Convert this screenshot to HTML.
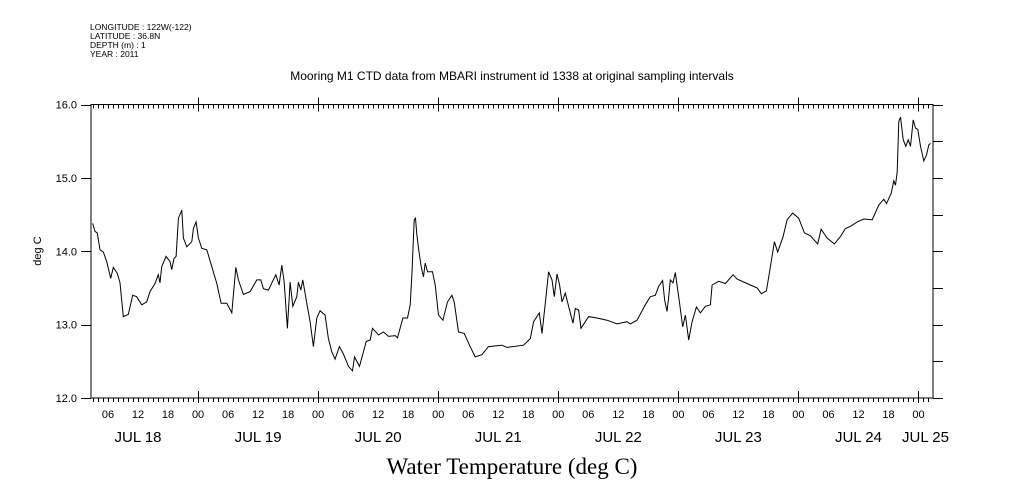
<!DOCTYPE html>
<html><head><meta charset="utf-8"><style>
body{margin:0;background:#fff;width:1009px;height:504px;overflow:hidden}
svg{display:block}
</style></head><body>
<svg id="chart" width="1009" height="504" xmlns="http://www.w3.org/2000/svg" font-family="Liberation Sans, sans-serif">
<g font-size="8.5" fill="#000">
<text x="90" y="30">LONGITUDE : 122W(-122)</text>
<text x="90" y="39">LATITUDE : 36.8N</text>
<text x="90" y="48">DEPTH (m) : 1</text>
<text x="90" y="57">YEAR : 2011</text>
</g>
<text x="512" y="80" font-size="12" text-anchor="middle">Mooring M1 CTD data from MBARI instrument id 1338 at original sampling intervals</text>
<text x="41" y="251" font-size="11" text-anchor="middle" transform="rotate(-90 41 251)">deg C</text>
<text x="512" y="474" font-size="23" text-anchor="middle" font-family="Liberation Serif, serif">Water Temperature (deg C)</text>
<g id="axes"></g>
<g id="series"></g>
</svg>
<script>
const hours=[2.94,3.4,3.86,4.4,5.06,5.74,6.54,7.06,7.86,8.4,9.06,10.06,10.94,11.74,12.74,13.74,14.4,15.4,16.06,16.4,16.74,17.6,18.4,18.74,19.2,19.6,20.06,20.74,21.06,21.74,22.74,23.06,23.6,24.06,24.74,25.74,26.74,27.74,28.6,29.74,30.74,31.54,32.06,33.06,34.4,35.74,36.54,37.06,38.06,39.54,40.2,40.74,41.2,41.86,42.4,42.94,43.74,44.06,44.54,44.94,45.74,46.4,47.06,47.74,48.4,49.4,50.06,50.74,51.4,52.26,53.06,54.06,54.86,55.26,56.26,57.6,58.4,58.86,60.06,61.06,62.06,63.4,63.86,64.94,65.86,66.4,66.74,67.2,67.46,67.74,68.06,68.6,69.06,69.4,69.86,70.86,71.4,72.06,72.94,73.86,74.74,75.2,76.06,77.2,78.26,79.4,80.74,82.06,84.74,85.74,89.06,90.4,91.06,92.2,92.74,93.4,94.06,94.74,95.2,95.74,96.26,96.74,97.4,98.06,98.94,99.4,100.06,100.54,102.06,103.74,105.74,107.74,109.74,110.4,111.74,113.4,114.4,115.4,116.06,116.86,117.26,117.74,118.06,118.4,118.94,119.4,120.26,120.86,121.4,122.06,122.74,123.6,124.4,125.4,126.4,126.74,128.06,129.4,130.94,131.74,134.4,135.74,136.6,137.6,138.4,139.2,139.86,140.94,141.74,142.86,144.06,145.2,146.4,147.86,148.54,149.74,151.2,152.4,153.4,154.4,155.74,157.06,158.74,160.06,161.06,161.6,162.54,163.06,163.4,163.74,164.06,164.4,164.94,165.46,165.94,166.4,166.94,167.4,167.86,168.4,169.06,169.6,170.06,170.4];
const temps=[14.38,14.27,14.25,14.02,13.99,13.86,13.63,13.78,13.70,13.57,13.11,13.14,13.40,13.38,13.27,13.31,13.45,13.56,13.68,13.57,13.79,13.93,13.86,13.75,13.90,13.93,14.45,14.56,14.18,14.06,14.13,14.31,14.40,14.18,14.04,14.02,13.79,13.56,13.29,13.29,13.16,13.78,13.61,13.41,13.45,13.61,13.61,13.49,13.47,13.68,13.54,13.81,13.59,12.95,13.58,13.25,13.38,13.58,13.47,13.61,13.29,13.04,12.70,13.09,13.19,13.13,12.81,12.63,12.53,12.70,12.60,12.43,12.37,12.56,12.43,12.77,12.79,12.95,12.86,12.90,12.84,12.85,12.82,13.09,13.09,13.27,13.68,14.43,14.45,14.22,14.04,13.79,13.65,13.84,13.72,13.72,13.54,13.13,13.06,13.31,13.40,13.31,12.90,12.88,12.72,12.56,12.59,12.70,12.72,12.69,12.72,12.81,13.04,13.16,12.88,13.29,13.72,13.61,13.38,13.69,13.54,13.31,13.43,13.25,13.02,13.22,13.20,12.95,13.11,13.09,13.06,13.01,13.04,13.01,13.06,13.27,13.38,13.40,13.52,13.60,13.34,13.18,13.36,13.61,13.57,13.71,13.29,12.97,13.13,12.79,13.04,13.24,13.16,13.25,13.27,13.54,13.59,13.56,13.68,13.62,13.54,13.50,13.42,13.46,13.79,14.13,13.99,14.20,14.43,14.52,14.45,14.25,14.21,14.10,14.30,14.18,14.10,14.20,14.31,14.34,14.40,14.44,14.43,14.63,14.71,14.65,14.79,14.96,14.90,15.08,15.77,15.83,15.52,15.43,15.52,15.43,15.79,15.68,15.66,15.43,15.23,15.31,15.45,15.47];
const yTicks=["12.0","13.0","14.0","15.0","16.0"];
const hourLabels=["00","06","12","18"];
const dayLabels=["JUL 18","JUL 19","JUL 20","JUL 21","JUL 22","JUL 23","JUL 24","JUL 25"];
const L=91,R=933,T=104.5,B=398;
const xMin=2.6,xMax=170.9,yMin=12,yMax=16;
const xs=h=>L+(h-xMin)/(xMax-xMin)*(R-L);
const ys=v=>B-(v-yMin)/(yMax-yMin)*(B-T);
const NS="http://www.w3.org/2000/svg";
const ax=document.getElementById('axes');
function el(tag,attrs,parent){const e=document.createElementNS(NS,tag);for(const k in attrs)e.setAttribute(k,attrs[k]);parent.appendChild(e);return e;}
const frame=el('rect',{x:L,y:T,width:R-L,height:B-T,fill:'none',stroke:'#000','stroke-width':1},ax);


let d='';
for(let h=Math.ceil(xMin);h<=xMax;h++){
  const x=Math.round(xs(h))+0.5;
  if(h%24===0){d+=`M${x} ${T-7}V${T+7}M${x} ${B-7}V${B+5}`;}
  else {d+=`M${x} ${T}V${T+4}M${x} ${B}V${B+4}`;}
}
for(let v=12;v<=16.001;v+=0.5){
  const y=Math.round(ys(v))+0.5;
  d+=`M${R} ${y}H${R+10}`;
  if(Math.abs(v-Math.round(v))<0.01) d+=`M${L-10} ${y}H${L}`;
}
const tk=el('path',{d:d,stroke:'#000','stroke-width':1,fill:'none'},ax);


yTicks.forEach(s=>{
  const t=el('text',{x:L-14,y:ys(parseFloat(s))+4,'font-size':11,'text-anchor':'end'},ax);
  t.textContent=s;
  
  
});
for(let h=Math.ceil(xMin/6)*6;h<=xMax;h+=6){
  const t=el('text',{x:xs(h),y:418,'font-size':11,'text-anchor':'middle'},ax);
  t.textContent=hourLabels[(h/6)%4];
  
  
}
dayLabels.forEach((s,i)=>{
  let c=i*24+12;
  if(c>xMax) c=Math.min(c,xMax-1.5);
  const t=el('text',{x:xs(c),y:442,'font-size':15,'text-anchor':'middle'},ax);
  t.textContent=s;
  
  
});
const pts=hours.map((h,i)=>xs(h).toFixed(1)+','+ys(temps[i]).toFixed(1)).join(' ');
const line=el('polyline',{points:pts,fill:'none',stroke:'#000','stroke-width':1},document.getElementById('series'));


</script>
</body></html>
